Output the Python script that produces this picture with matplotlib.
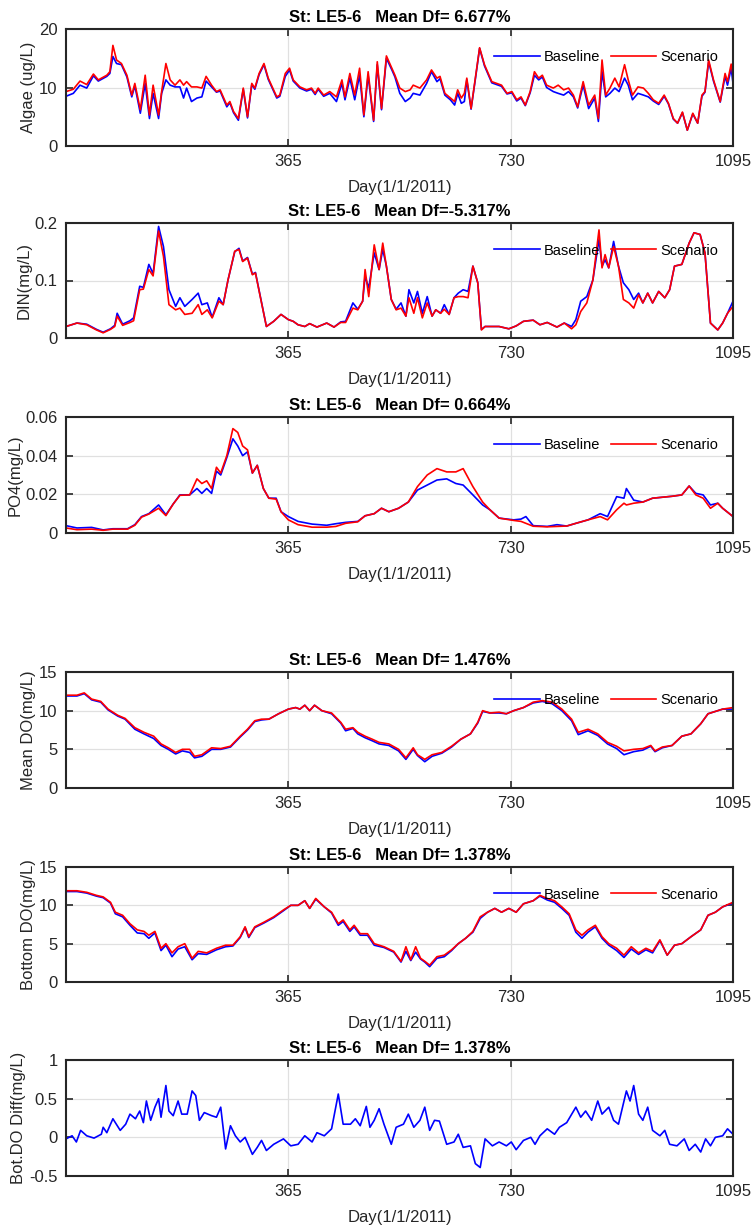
import matplotlib
matplotlib.use("Agg")
import matplotlib.pyplot as plt

plt.rcParams['font.family'] = ['Liberation Sans', 'DejaVu Sans']

# ---- data ----
algae_day = [0, 12, 23, 34, 45, 53, 67, 72, 77, 83, 91, 100, 108, 113, 122, 130, 137, 143, 152, 157,
             164, 171, 179, 187, 193, 198, 206, 215, 223, 230, 239, 247, 253, 264, 269, 275, 283, 291, 298, 305,
             310, 317, 325, 332, 346, 351, 360, 367, 373, 384, 395, 403, 409, 414, 423, 433, 444, 453, 458, 466,
             474, 482, 489, 496, 505, 511, 518, 526, 535, 540, 548, 557, 565, 570, 581, 592, 600, 609, 614, 622,
             631, 638, 643, 649, 654, 658, 665, 672, 679, 687, 692, 699, 707, 715, 724, 732, 740, 747, 754, 762,
             769, 776, 782, 789, 800, 808, 817, 825, 833, 840, 844, 849, 858, 868, 874, 880, 886, 893, 901, 908,
             917, 923, 930, 939, 948, 956, 964, 973, 982, 989, 997, 1004, 1012, 1020, 1029, 1037, 1044, 1049, 1055, 1063,
             1074, 1082, 1086, 1092, 1095]
algae_scen = [9.3, 9.7, 11.1, 10.5, 12.3, 11.3, 12.1, 12.7, 17.2, 14.7, 14.1, 12.1, 8.7, 10.7, 6.2, 12.1, 5.3, 10.4, 5.3, 9.3,
              14.1, 11.3, 10.4, 11.3, 10.4, 11.0, 10.1, 10.1, 9.9, 11.9, 10.4, 9.3, 9.6, 7.0, 7.6, 5.9, 4.7, 9.9, 5.0, 10.7,
              9.9, 12.4, 14.1, 11.6, 8.4, 8.7, 12.4, 13.3, 11.3, 10.1, 9.6, 9.9, 9.0, 9.9, 8.7, 9.3, 8.4, 11.3, 8.4, 12.4,
              8.7, 13.3, 5.3, 12.7, 4.4, 14.4, 6.4, 15.4, 13.3, 12.1, 9.9, 9.3, 9.6, 10.4, 9.9, 11.3, 13.0, 11.6, 11.9, 9.0,
              8.2, 7.6, 9.6, 8.2, 9.0, 11.6, 6.4, 11.6, 16.8, 13.9, 12.7, 11.0, 10.7, 10.4, 9.0, 9.3, 7.9, 8.4, 7.0, 9.3,
              12.7, 11.6, 12.1, 10.4, 9.9, 10.4, 9.6, 9.9, 8.7, 6.7, 8.7, 11.0, 7.0, 8.7, 4.7, 14.7, 8.7, 9.9, 11.6, 10.1,
              13.9, 11.3, 8.7, 10.1, 9.9, 9.0, 7.9, 7.3, 8.7, 7.3, 4.7, 3.9, 5.8, 2.7, 5.6, 3.9, 8.7, 9.3, 14.7, 11.3,
              7.6, 12.4, 11.0, 14.0, 12.1]
algae_base = [8.5, 9.0, 10.4, 9.9, 12.0, 11.1, 11.9, 12.4, 15.3, 14.1, 13.9, 11.8, 8.4, 10.3, 5.6, 10.7, 4.7, 9.0, 4.7, 9.0,
              11.3, 10.4, 10.1, 10.1, 8.2, 9.9, 7.6, 8.2, 8.4, 11.1, 10.1, 9.2, 9.4, 6.7, 7.4, 5.7, 4.4, 9.7, 4.8, 10.5,
              9.7, 12.2, 13.9, 11.4, 8.2, 8.5, 11.9, 13.0, 11.1, 9.9, 9.4, 9.7, 8.8, 9.7, 8.5, 9.0, 7.6, 10.7, 7.9, 11.6,
              7.9, 12.1, 5.0, 12.1, 4.2, 13.9, 6.2, 15.0, 13.0, 11.8, 9.0, 7.6, 8.2, 9.0, 8.7, 10.7, 12.7, 11.0, 11.5, 8.7,
              7.9, 7.0, 9.0, 7.3, 7.6, 11.3, 6.3, 11.4, 16.7, 13.7, 12.5, 10.8, 10.5, 10.2, 8.9, 9.1, 7.7, 8.2, 6.9, 9.1,
              12.1, 11.3, 11.8, 10.0, 9.3, 9.0, 8.7, 9.3, 8.4, 6.5, 8.3, 10.4, 6.4, 8.2, 4.2, 12.7, 8.4, 9.0, 9.9, 9.3,
              11.6, 10.4, 7.9, 9.0, 8.7, 8.4, 7.7, 7.1, 8.5, 7.2, 4.6, 3.9, 5.7, 2.7, 5.5, 3.9, 8.5, 9.2, 14.4, 11.1,
              7.5, 11.9, 10.4, 13.3, 10.7]

din_day = [0, 18, 34, 50, 61, 73, 80, 84, 93, 105, 111, 121, 127, 136, 143, 152, 160, 169, 180, 187,
           195, 207, 217, 223, 232, 240, 251, 258, 266, 277, 284, 290, 298, 306, 311, 321, 329, 341, 353, 365,
           373, 381, 392, 400, 412, 428, 440, 451, 459, 471, 479, 487, 491, 497, 506, 514, 520, 526, 534, 542,
           550, 558, 563, 571, 577, 585, 593, 601, 607, 615, 621, 629, 637, 644, 652, 660, 668, 676, 682, 688,
           711, 727, 739, 751, 767, 778, 790, 806, 818, 830, 837, 845, 855, 865, 875, 880, 885, 891, 899, 907,
           915, 924, 932, 940, 947, 955, 963, 973, 983, 991, 999, 1011, 1023, 1031, 1041, 1049, 1058, 1070, 1078, 1086,
           1095]
din_scen = [.020, .026, .023, .014, .009, .015, .020, .038, .022, .027, .030, .084, .085, .119, .108, .186, .142, .058, .049, .052,
            .041, .043, .058, .041, .049, .035, .064, .058, .101, .151, .154, .133, .139, .110, .113, .061, .020, .029, .041, .032,
            .029, .023, .020, .025, .019, .026, .019, .027, .027, .052, .049, .064, .119, .072, .162, .119, .165, .125, .067, .049,
            .052, .038, .070, .043, .070, .035, .061, .038, .049, .043, .050, .041, .070, .072, .072, .070, .125, .096, .014, .020,
            .020, .016, .021, .029, .031, .023, .027, .019, .026, .016, .023, .046, .061, .101, .188, .122, .145, .122, .159, .125,
            .067, .061, .052, .075, .061, .078, .061, .081, .070, .084, .125, .128, .165, .183, .180, .148, .026, .014, .026, .043,
            .055]
din_base = [.020, .026, .024, .015, .010, .016, .022, .043, .024, .030, .035, .090, .088, .128, .112, .194, .159, .084, .055, .070,
            .055, .067, .078, .058, .061, .036, .070, .058, .101, .150, .156, .134, .140, .111, .114, .062, .020, .029, .041, .032,
            .029, .023, .020, .025, .019, .026, .019, .028, .029, .061, .050, .064, .107, .087, .148, .119, .154, .125, .067, .050,
            .061, .038, .084, .061, .081, .043, .072, .038, .049, .043, .058, .041, .070, .078, .084, .081, .125, .096, .015, .020,
            .020, .016, .021, .029, .031, .023, .027, .019, .026, .020, .032, .064, .072, .101, .171, .125, .136, .122, .168, .125,
            .096, .084, .067, .078, .061, .078, .061, .081, .070, .084, .125, .128, .165, .183, .180, .148, .026, .014, .026, .043,
            .064]

po4_day = [0, 18, 42, 61, 77, 101, 113, 124, 136, 152, 164, 176, 187, 203, 215, 223, 231, 239, 247, 254,
           264, 274, 282, 290, 298, 306, 314, 324, 333, 345, 353, 365, 381, 404, 428, 443, 459, 479, 491, 506,
           518, 530, 546, 562, 577, 593, 609, 625, 640, 652, 668, 684, 696, 711, 735, 747, 755, 767, 790, 806,
           822, 837, 857, 877, 889, 904, 916, 920, 932, 947, 963, 979, 995, 1011, 1023, 1034, 1046, 1058, 1070, 1078,
           1095]
po4_scen = [.0026, .0017, .0020, .0014, .0020, .0020, .0040, .0082, .0098, .0128, .0090, .0150, .0195, .0197, .0280, .0256, .0270, .0230, .0340, .0310,
            .0400, .0540, .0520, .0450, .0430, .0310, .0350, .0230, .0180, .0175, .0110, .0068, .0043, .0030, .0030, .0034, .0050, .0058, .0089, .0100,
            .0128, .0110, .0128, .0160, .0240, .0300, .0333, .0316, .0316, .0333, .0240, .0160, .0120, .0077, .0065, .0060, .0050, .0035, .0032, .0034,
            .0036, .0050, .0068, .0085, .0068, .0120, .0154, .0145, .0154, .0160, .0180, .0185, .0190, .0197, .0243, .0197, .0180, .0128, .0154, .0128,
            .0085]
po4_base = [.0038, .0026, .0029, .0016, .0022, .0022, .0043, .0085, .0100, .0145, .0094, .0150, .0197, .0197, .0230, .0205, .0230, .0205, .0320, .0300,
            .0390, .0487, .0450, .0400, .0420, .0310, .0350, .0230, .0180, .0180, .0110, .0085, .0060, .0046, .0040, .0048, .0055, .0060, .0089, .0100,
            .0128, .0110, .0128, .0160, .0222, .0248, .0274, .0280, .0256, .0248, .0197, .0145, .0120, .0077, .0068, .0072, .0085, .0038, .0034, .0043,
            .0036, .0050, .0068, .0100, .0085, .0188, .0180, .0230, .0170, .0160, .0180, .0185, .0190, .0197, .0243, .0205, .0197, .0145, .0154, .0128,
            .0085]

mdo_day = [0, 18, 30, 42, 57, 69, 85, 97, 113, 128, 144, 156, 168, 180, 191, 203, 211, 223, 239, 254,
           270, 286, 298, 310, 321, 333, 349, 365, 377, 384, 392, 400, 408, 420, 436, 451, 459, 471, 479, 491,
           503, 514, 530, 546, 558, 570, 577, 589, 601, 617, 633, 648, 664, 676, 684, 696, 711, 723, 735, 751,
           767, 782, 798, 814, 830, 841, 857, 873, 889, 904, 916, 932, 947, 960, 967, 979, 995, 1011, 1026, 1042,
           1054, 1066, 1078, 1095]
mdo_scen = [12.0, 12.0, 12.3, 11.5, 11.2, 10.2, 9.4, 9.0, 7.8, 7.2, 6.7, 5.7, 5.2, 4.6, 5.0, 5.0, 4.1, 4.3, 5.2, 5.1,
            5.4, 6.7, 7.6, 8.7, 8.9, 8.9, 9.6, 10.2, 10.4, 10.2, 10.7, 10.0, 10.7, 10.0, 9.7, 8.5, 7.6, 7.8, 7.2, 6.7,
            6.3, 5.9, 5.7, 5.0, 3.9, 5.2, 4.3, 3.7, 4.3, 4.6, 5.4, 6.3, 7.0, 8.5, 10.0, 9.7, 9.8, 9.6, 10.0, 10.4,
            11.1, 11.3, 11.1, 10.2, 8.9, 7.2, 7.6, 7.0, 5.9, 5.4, 4.8, 5.0, 5.1, 5.5, 4.8, 5.3, 5.5, 6.7, 7.0, 8.3,
            9.6, 9.9, 10.2, 10.4]
mdo_base = [11.9, 11.9, 12.2, 11.4, 11.1, 10.1, 9.3, 8.9, 7.6, 7.0, 6.4, 5.5, 5.0, 4.4, 4.8, 4.6, 3.9, 4.1, 5.0, 5.0,
            5.3, 6.6, 7.5, 8.6, 8.8, 8.9, 9.6, 10.2, 10.4, 10.2, 10.7, 10.0, 10.7, 10.0, 9.6, 8.4, 7.4, 7.7, 7.0, 6.5,
            6.1, 5.7, 5.5, 4.8, 3.7, 5.0, 4.2, 3.4, 4.1, 4.5, 5.3, 6.3, 7.0, 8.4, 9.9, 9.7, 9.7, 9.6, 10.0, 10.4,
            11.0, 11.2, 10.9, 10.0, 8.7, 6.9, 7.4, 6.8, 5.7, 5.1, 4.3, 4.7, 4.9, 5.4, 4.7, 5.2, 5.5, 6.7, 7.0, 8.3,
            9.6, 9.9, 10.2, 10.2]

bdo_day = [0, 18, 34, 50, 61, 73, 81, 93, 105, 117, 128, 136, 146, 156, 164, 174, 184, 195, 207, 217,
           231, 247, 262, 274, 286, 294, 300, 310, 325, 341, 357, 369, 381, 392, 400, 410, 424, 436, 447, 455,
           466, 473, 483, 495, 506, 522, 538, 550, 558, 566, 574, 582, 589, 597, 609, 621, 633, 644, 656, 668,
           680, 692, 704, 715, 727, 739, 751, 767, 778, 790, 802, 814, 826, 837, 847, 857, 869, 880, 891, 904,
           916, 928, 940, 952, 963, 975, 987, 999, 1011, 1026, 1042, 1054, 1066, 1078, 1095]
bdo_scen = [11.9, 11.9, 11.7, 11.3, 11.1, 10.4, 9.1, 8.7, 7.6, 6.8, 6.6, 6.1, 6.6, 4.4, 5.0, 3.8, 4.6, 5.0, 3.1, 4.0,
            3.8, 4.4, 4.8, 4.8, 5.9, 7.2, 5.9, 7.2, 7.8, 8.5, 9.4, 10.0, 10.0, 10.6, 9.6, 10.9, 9.8, 9.1, 7.6, 8.1,
            6.8, 7.4, 6.3, 6.3, 5.0, 4.6, 4.0, 2.7, 4.6, 2.9, 4.6, 3.1, 2.7, 2.2, 3.3, 3.5, 4.2, 5.0, 5.7, 6.6,
            8.5, 9.1, 9.6, 9.1, 9.6, 9.1, 10.2, 10.6, 11.3, 10.9, 10.6, 9.8, 8.9, 6.8, 6.1, 6.8, 7.4, 5.9, 5.0, 4.4,
            3.5, 4.6, 3.8, 4.4, 4.0, 5.5, 3.5, 4.8, 5.0, 5.9, 6.8, 8.7, 9.1, 9.8, 10.4]
bdo_base = [11.8, 11.8, 11.6, 11.2, 11.0, 10.3, 8.9, 8.5, 7.4, 6.4, 6.3, 5.7, 6.4, 4.1, 4.8, 3.3, 4.3, 4.6, 2.9, 3.7,
            3.6, 4.2, 4.6, 4.7, 5.8, 7.1, 5.8, 7.1, 7.7, 8.4, 9.3, 10.0, 10.0, 10.6, 9.6, 10.8, 9.8, 9.0, 7.4, 7.9,
            6.6, 7.2, 6.1, 6.1, 4.8, 4.5, 3.9, 2.6, 4.0, 2.8, 3.9, 3.0, 2.6, 2.0, 3.1, 3.3, 4.1, 5.0, 5.7, 6.5,
            8.3, 9.1, 9.6, 9.1, 9.6, 9.1, 10.2, 10.6, 11.2, 10.7, 10.4, 9.6, 8.7, 6.5, 5.7, 6.5, 7.2, 5.7, 4.8, 4.1,
            3.2, 4.3, 3.6, 4.2, 3.8, 5.4, 3.5, 4.8, 5.0, 5.9, 6.8, 8.7, 9.1, 9.8, 10.3]

diff_day = [0, 10, 17, 24, 34, 46, 58, 61, 67, 77, 89, 98, 105, 114, 121, 127, 132, 139, 146, 152,
            156, 164, 169, 176, 184, 190, 199, 207, 213, 219, 227, 239, 247, 254, 262, 270, 278, 286, 294, 306,
            314, 321, 329, 341, 357, 369, 381, 392, 404, 412, 424, 436, 447, 455, 467, 475, 483, 493, 499, 506,
            514, 522, 534, 542, 554, 562, 571, 581, 589, 597, 605, 613, 625, 637, 644, 652, 664, 672, 680, 688,
            700, 711, 723, 731, 739, 751, 763, 770, 778, 790, 802, 810, 822, 837, 845, 853, 863, 873, 880, 891,
            899, 907, 920, 926, 932, 940, 947, 955, 963, 975, 983, 991, 1003, 1015, 1023, 1033, 1042, 1050, 1058, 1066,
            1078, 1086, 1095]
diff_val = [-0.02, 0.02, -0.06, 0.09, 0.02, -0.01, 0.04, 0.13, 0.06, 0.24, 0.09, 0.17, 0.30, 0.24, 0.34, 0.19, 0.47, 0.22, 0.39, 0.50,
            0.26, 0.67, 0.34, 0.28, 0.47, 0.30, 0.30, 0.60, 0.54, 0.22, 0.32, 0.28, 0.26, 0.39, -0.15, 0.15, 0.02, -0.06, 0.00, -0.22,
            -0.13, -0.04, -0.17, -0.09, -0.02, -0.11, -0.09, 0.02, -0.06, 0.06, 0.02, 0.11, 0.56, 0.17, 0.17, 0.24, 0.15, 0.40, 0.13, 0.22,
            0.37, 0.17, -0.09, 0.13, 0.17, 0.30, 0.13, 0.22, 0.39, 0.09, 0.22, 0.21, -0.09, -0.06, 0.04, -0.13, -0.11, -0.34, -0.39, -0.02,
            -0.11, -0.06, -0.11, -0.06, -0.16, -0.04, 0.00, -0.09, 0.02, 0.11, 0.04, 0.13, 0.19, 0.39, 0.26, 0.34, 0.22, 0.47, 0.30, 0.39,
            0.22, 0.17, 0.60, 0.47, 0.67, 0.30, 0.22, 0.39, 0.09, 0.02, 0.09, -0.09, -0.11, -0.02, -0.17, -0.09, -0.19, -0.02, -0.11, 0.00,
            0.02, 0.11, 0.04]

titles = ["St: LE5-6   Mean Df= 6.677%", "St: LE5-6   Mean Df=-5.317%", "St: LE5-6   Mean Df= 0.664%",
          "St: LE5-6   Mean Df= 1.476%", "St: LE5-6   Mean Df= 1.378%", "St: LE5-6   Mean Df= 1.378%"]
ylabels = ["Algae (ug/L)", "DIN(mg/L)", "PO4(mg/L)", "Mean DO(mg/L)", "Bottom DO(mg/L)", "Bot.DO Diff(mg/L)"]
yticks = [[0, 10, 20], [0, 0.1, 0.2], [0, 0.02, 0.04, 0.06], [0, 5, 10, 15], [0, 5, 10, 15], [-0.5, 0, 0.5, 1]]
xticks = [365, 730, 1095]

# axes boxes in pixels (top, bottom)
W, H = 751, 1231
boxes = [(29, 146), (223, 338), (417, 533), (672, 788), (867, 982), (1060, 1176)]

fig = plt.figure(figsize=(W / 100, H / 100), dpi=100)

series = [(algae_day, algae_base, algae_scen), (din_day, din_base, din_scen), (po4_day, po4_base, po4_scen),
          (mdo_day, mdo_base, mdo_scen), (bdo_day, bdo_base, bdo_scen), (diff_day, diff_val, None)]

for i, (top, bot) in enumerate(boxes):
    ax = fig.add_axes([66 / W, 1 - bot / H, 667 / W, (bot - top) / H])
    day, base, scen = series[i]
    ax.plot(day, base, color='#0000ff', lw=1.2, label='Baseline')
    if scen is not None:
        ax.plot(day, scen, color='#ff0000', lw=1.2, label='Scenario')
        ax.legend(loc='center', bbox_to_anchor=(0.81, 0.76), ncol=2, frameon=False, fontsize=10.5,
                  handlelength=3.1, handletextpad=0.3, columnspacing=0.7, borderpad=0)
    ax.set_xlim(0, 1095)
    ax.set_ylim(yticks[i][0], yticks[i][-1])
    ax.set_xticks(xticks)
    ax.set_yticks(yticks[i])
    ax.set_yticklabels([f"{t:g}" for t in yticks[i]])
    ax.grid(True, color='#e0e0e0', lw=0.9)
    ax.tick_params(direction='in', top=True, right=True, length=5, width=1.2, labelsize=12,
                   colors='#262626', pad=6)
    for s in ax.spines.values():
        s.set_linewidth(1.5)
        s.set_color('#262626')
    ax.set_title(titles[i], fontsize=12, fontweight='bold', pad=5)
    ax.set_ylabel(ylabels[i], fontsize=12, color='#262626', labelpad=2)
    ax.set_xlabel("Day(1/1/2011)", fontsize=12, color='#262626', labelpad=8)

fig.savefig("out.png", dpi=100)
